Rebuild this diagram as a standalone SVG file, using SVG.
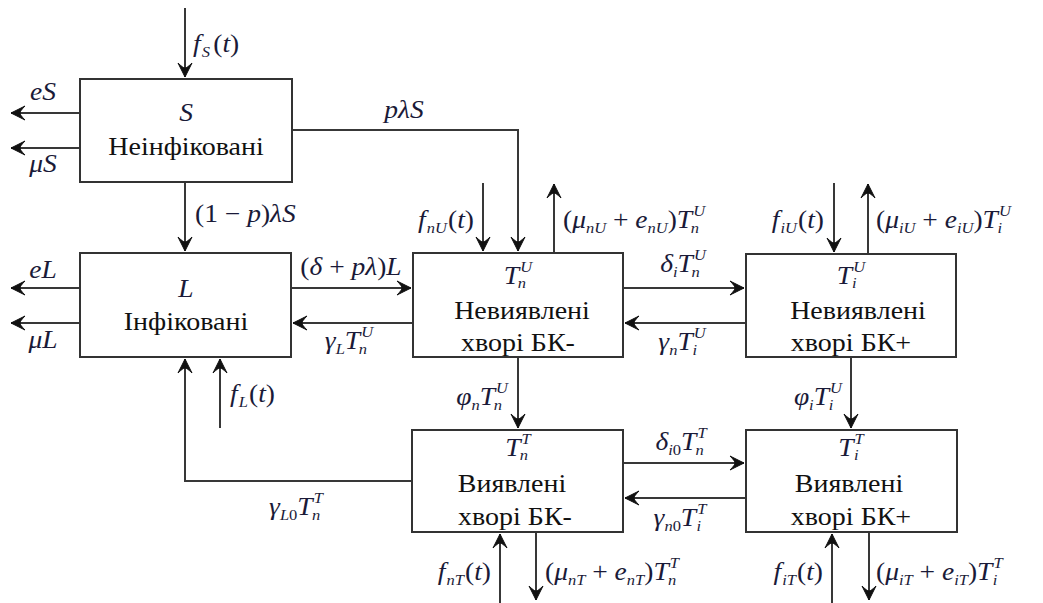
<svg xmlns="http://www.w3.org/2000/svg" width="1043" height="603" viewBox="0 0 1043 603">
<style>
.box{fill:#fff;stroke:#333;stroke-width:2}
.ln{fill:none;stroke:#383838;stroke-width:2}
.t{font-family:"Liberation Serif","Times New Roman","DejaVu Serif",serif;font-size:25px;fill:#111}
.m{font-family:"Liberation Serif","Times New Roman","DejaVu Serif",serif;font-size:25px;font-style:italic;fill:#1a1a38}
.r{font-style:normal}
.s{font-size:15px}
</style>
<defs>
<marker id="ah" viewBox="-16 -9 18 18" refX="0" refY="0" markerWidth="18" markerHeight="18" markerUnits="userSpaceOnUse" orient="auto">
<path d="M0,0 L-14,-7 Q-9,-2 -9,0 Q-9,2 -14,7 Z" fill="#111" stroke="#111" stroke-width="1" stroke-linejoin="round"/>
</marker>
</defs>
<rect width="1043" height="603" fill="#fff"/>
<g id="connectors">
<path class="ln" d="M185,8 V77" marker-end="url(#ah)"/>
<path class="ln" d="M80,113 H11" marker-end="url(#ah)"/>
<path class="ln" d="M80,148 H11" marker-end="url(#ah)"/>
<path class="ln" d="M185,182 V251" marker-end="url(#ah)"/>
<path class="ln" d="M292,130 H518 V251" marker-end="url(#ah)"/>
<path class="ln" d="M80,288 H11" marker-end="url(#ah)"/>
<path class="ln" d="M80,323 H11" marker-end="url(#ah)"/>
<path class="ln" d="M291,288 H411" marker-end="url(#ah)"/>
<path class="ln" d="M413,323 H293" marker-end="url(#ah)"/>
<path class="ln" d="M220,428 V359" marker-end="url(#ah)"/>
<path class="ln" d="M412,481 H185 V359" marker-end="url(#ah)"/>
<path class="ln" d="M483,183 V251" marker-end="url(#ah)"/>
<path class="ln" d="M554,253 V184" marker-end="url(#ah)"/>
<path class="ln" d="M623,288 H744" marker-end="url(#ah)"/>
<path class="ln" d="M746,323 H625" marker-end="url(#ah)"/>
<path class="ln" d="M834,183 V252" marker-end="url(#ah)"/>
<path class="ln" d="M868,254 V184" marker-end="url(#ah)"/>
<path class="ln" d="M518,357 V428" marker-end="url(#ah)"/>
<path class="ln" d="M851,357 V428" marker-end="url(#ah)"/>
<path class="ln" d="M623,463 H744" marker-end="url(#ah)"/>
<path class="ln" d="M746,498 H625" marker-end="url(#ah)"/>
<path class="ln" d="M500,603 V534" marker-end="url(#ah)"/>
<path class="ln" d="M536,532 V600" marker-end="url(#ah)"/>
<path class="ln" d="M832,603 V534" marker-end="url(#ah)"/>
<path class="ln" d="M869,532 V600" marker-end="url(#ah)"/>
<g id="connector-labels">
<text class="m" transform="translate(193,52) scale(1.1,1)">f<tspan class="s" dx="1" dy="5">S</tspan><tspan class="r" dy="-5" dx="3">(</tspan>t<tspan class="r">)</tspan></text>
<text class="m" text-anchor="middle" transform="translate(43,100) scale(1.1,1)">eS</text>
<text class="m" text-anchor="middle" transform="translate(43,172) scale(1.1,1)">μS</text>
<text class="m" text-anchor="middle" transform="translate(404,118) scale(1.1,1)">pλS</text>
<text class="m" transform="translate(195,222) scale(1.1,1)"><tspan class="r">(1 − </tspan>p<tspan class="r">)</tspan>λS</text>
<text class="m" text-anchor="middle" transform="translate(43,278) scale(1.1,1)">eL</text>
<text class="m" text-anchor="middle" transform="translate(43,348) scale(1.1,1)">μL</text>
<text class="m" text-anchor="middle" transform="translate(351,275) scale(1.1,1)"><tspan class="r">(</tspan>δ<tspan class="r"> + </tspan>pλ<tspan class="r">)</tspan>L</text>
<text class="m" text-anchor="middle" transform="translate(349,349) scale(1.1,1)">γ<tspan class="s" dy="5">L</tspan><tspan dy="-5">T</tspan><tspan class="s" dx="1" dy="-12">U</tspan><tspan class="s" dx="-13" dy="17">n</tspan></text>
<text class="m" transform="translate(230,402) scale(1.1,1)">f<tspan class="s" dx="1" dy="5">L</tspan><tspan class="r" dy="-5" dx="1">(</tspan>t<tspan class="r">)</tspan></text>
<text class="m" text-anchor="end" transform="translate(474,228) scale(1.1,1)">f<tspan class="s" dx="1" dy="5">nU</tspan><tspan class="r" dy="-5" dx="1">(</tspan>t<tspan class="r">)</tspan></text>
<text class="m" transform="translate(563,228) scale(1.1,1)"><tspan class="r">(</tspan>μ<tspan class="s" dy="5">nU</tspan><tspan class="r" dy="-5"> + </tspan>e<tspan class="s" dy="5">nU</tspan><tspan class="r" dy="-5">)</tspan>T<tspan class="s" dx="1" dy="-12">U</tspan><tspan class="s" dx="-13" dy="17">n</tspan></text>
<text class="m" text-anchor="end" transform="translate(824,228) scale(1.1,1)">f<tspan class="s" dx="1" dy="5">iU</tspan><tspan class="r" dy="-5" dx="1">(</tspan>t<tspan class="r">)</tspan></text>
<text class="m" transform="translate(876,228) scale(1.1,1)"><tspan class="r">(</tspan>μ<tspan class="s" dy="5">iU</tspan><tspan class="r" dy="-5"> + </tspan>e<tspan class="s" dy="5">iU</tspan><tspan class="r" dy="-5">)</tspan>T<tspan class="s" dx="1" dy="-12">U</tspan><tspan class="s" dx="-12" dy="17">i</tspan></text>
<text class="m" text-anchor="middle" transform="translate(683,272) scale(1.1,1)">δ<tspan class="s" dy="5">i</tspan><tspan dy="-5">T</tspan><tspan class="s" dx="1" dy="-12">U</tspan><tspan class="s" dx="-13" dy="17">n</tspan></text>
<text class="m" text-anchor="middle" transform="translate(682,350) scale(1.1,1)">γ<tspan class="s" dy="5">n</tspan><tspan dy="-5">T</tspan><tspan class="s" dx="1" dy="-12">U</tspan><tspan class="s" dx="-12" dy="17">i</tspan></text>
<text class="m" text-anchor="end" transform="translate(508,405) scale(1.1,1)">φ<tspan class="s" dy="5">n</tspan><tspan dy="-5">T</tspan><tspan class="s" dx="1" dy="-12">U</tspan><tspan class="s" dx="-13" dy="17">n</tspan></text>
<text class="m" text-anchor="end" transform="translate(842,405) scale(1.1,1)">φ<tspan class="s" dy="5">i</tspan><tspan dy="-5">T</tspan><tspan class="s" dx="1" dy="-12">U</tspan><tspan class="s" dx="-12" dy="17">i</tspan></text>
<text class="m" text-anchor="middle" transform="translate(681,450) scale(1.1,1)">δ<tspan class="s" dy="5">i<tspan class="r">0</tspan></tspan><tspan dy="-5">T</tspan><tspan class="s" dx="1" dy="-12">T</tspan><tspan class="s" dx="-10" dy="17">n</tspan></text>
<text class="m" text-anchor="middle" transform="translate(680,526) scale(1.1,1)">γ<tspan class="s" dy="5">n<tspan class="r">0</tspan></tspan><tspan dy="-5">T</tspan><tspan class="s" dx="1" dy="-12">T</tspan><tspan class="s" dx="-9" dy="17">i</tspan></text>
<text class="m" text-anchor="middle" transform="translate(296,515) scale(1.1,1)">γ<tspan class="s" dy="5">L<tspan class="r">0</tspan></tspan><tspan dy="-5">T</tspan><tspan class="s" dx="1" dy="-12">T</tspan><tspan class="s" dx="-10" dy="17">n</tspan></text>
<text class="m" text-anchor="end" transform="translate(491,580) scale(1.1,1)">f<tspan class="s" dx="1" dy="5">nT</tspan><tspan class="r" dy="-5" dx="1">(</tspan>t<tspan class="r">)</tspan></text>
<text class="m" transform="translate(545,580) scale(1.1,1)"><tspan class="r">(</tspan>μ<tspan class="s" dy="5">nT</tspan><tspan class="r" dy="-5"> + </tspan>e<tspan class="s" dy="5">nT</tspan><tspan class="r" dy="-5">)</tspan>T<tspan class="s" dx="1" dy="-12">T</tspan><tspan class="s" dx="-10" dy="17">n</tspan></text>
<text class="m" text-anchor="end" transform="translate(823,580) scale(1.1,1)">f<tspan class="s" dx="1" dy="5">iT</tspan><tspan class="r" dy="-5" dx="1">(</tspan>t<tspan class="r">)</tspan></text>
<text class="m" transform="translate(876,580) scale(1.1,1)"><tspan class="r">(</tspan>μ<tspan class="s" dy="5">iT</tspan><tspan class="r" dy="-5"> + </tspan>e<tspan class="s" dy="5">iT</tspan><tspan class="r" dy="-5">)</tspan>T<tspan class="s" dx="1" dy="-12">T</tspan><tspan class="s" dx="-9" dy="17">i</tspan></text>
</g>
</g>
<g id="node-S">
<rect class="box" x="80" y="79" width="212" height="103"/>
<text class="m" text-anchor="middle" transform="translate(186,121) scale(1.1,1)">S</text>
<text class="t" text-anchor="middle" transform="translate(186,155) scale(1.12,1)">Неінфіковані</text>
</g>
<g id="node-L">
<rect class="box" x="80" y="253" width="211" height="104"/>
<text class="m" text-anchor="middle" transform="translate(186,297) scale(1.1,1)">L</text>
<text class="t" text-anchor="middle" transform="translate(186,330) scale(1.12,1)">Інфіковані</text>
</g>
<g id="node-TnU">
<rect class="box" x="413" y="253" width="210" height="104"/>
<text class="m" text-anchor="middle" transform="translate(518,284) scale(1.1,1)">T<tspan class="s" dx="1" dy="-12">U</tspan><tspan class="s" dx="-13" dy="16">n</tspan></text>
<text class="t" text-anchor="middle" transform="translate(522,319) scale(1.12,1)">Невиявлені</text>
<text class="t" text-anchor="middle" transform="translate(518,351) scale(1.12,1)">хворі БК-</text>
</g>
<g id="node-TiU">
<rect class="box" x="746" y="254" width="210" height="103"/>
<text class="m" text-anchor="middle" transform="translate(851,284) scale(1.1,1)">T<tspan class="s" dx="1" dy="-12">U</tspan><tspan class="s" dx="-12" dy="16">i</tspan></text>
<text class="t" text-anchor="middle" transform="translate(858,319) scale(1.12,1)">Невиявлені</text>
<text class="t" text-anchor="middle" transform="translate(851,351) scale(1.12,1)">хворі БК+</text>
</g>
<g id="node-TnT">
<rect class="box" x="412" y="430" width="211" height="102"/>
<text class="m" text-anchor="middle" transform="translate(518,456) scale(1.1,1)">T<tspan class="s" dx="1" dy="-12">T</tspan><tspan class="s" dx="-10" dy="16">n</tspan></text>
<text class="t" text-anchor="middle" transform="translate(512,492) scale(1.12,1)">Виявлені</text>
<text class="t" text-anchor="middle" transform="translate(515,525) scale(1.12,1)">хворі БК-</text>
</g>
<g id="node-TiT">
<rect class="box" x="746" y="430" width="211" height="102"/>
<text class="m" text-anchor="middle" transform="translate(851,456) scale(1.1,1)">T<tspan class="s" dx="1" dy="-12">T</tspan><tspan class="s" dx="-9" dy="16">i</tspan></text>
<text class="t" text-anchor="middle" transform="translate(849,492) scale(1.12,1)">Виявлені</text>
<text class="t" text-anchor="middle" transform="translate(851,525) scale(1.12,1)">хворі БК+</text>
</g>
</svg>
